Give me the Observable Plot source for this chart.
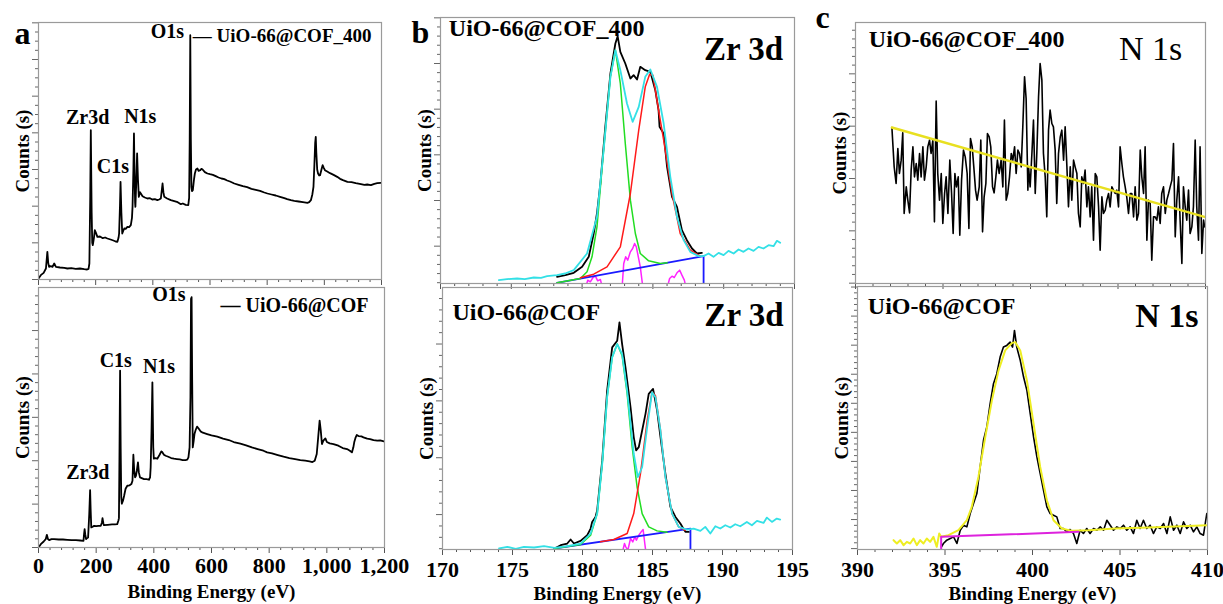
<!DOCTYPE html>
<html><head><meta charset="utf-8">
<script src="https://cdn.jsdelivr.net/npm/d3@7"></script>
<script src="https://cdn.jsdelivr.net/npm/@observablehq/plot@0.6"></script>
<style>
body{margin:0;background:#fff;}
#wrap{position:relative;width:1223px;height:604px;overflow:hidden;background:#fff;}
#wrap svg{position:absolute;}
</style></head><body><div id="wrap"></div>
<script>
// ---------- DATA (binding energy eV, counts in arbitrary units) ----------
const surveyCOF400 = [[0,3],[8,13],[18,20],[26,33],[31,83],[34,50],[37,38],[43,40],[49,38],[55,48],[61,38],[75,36],[90,35],[101,33],[115,34],[130,32],[145,33],[160,31],[170,30],[175,32],[178,48],[181,250],[183,448],[186,200],[188,110],[190,103],[194,125],[197,148],[201,140],[206,128],[215,129],[225,124],[233,126],[241,123],[252,120],[262,117],[270,114],[276,113],[280,125],[282,138],[285,220],[287,293],[290,200],[293,138],[296,145],[300,153],[305,152],[311,158],[317,157],[323,163],[327,185],[329,218],[332,330],[334,438],[336,320],[338,230],[339,218],[342,290],[345,378],[348,300],[351,248],[355,262],[358,258],[364,250],[372,246],[381,243],[390,244],[398,240],[407,241],[416,238],[422,240],[428,243],[431,265],[434,288],[437,262],[440,248],[450,243],[463,238],[475,235],[487,232],[498,226],[505,228],[515,224],[524,223],[527,245],[529,420],[531,733],[533,420],[535,278],[537,265],[540,268],[544,300],[547,318],[551,330],[556,333],[560,326],[566,328],[570,332],[574,330],[582,322],[591,318],[600,316],[610,314],[620,310],[630,306],[640,303],[650,301],[660,297],[670,294],[685,288],[700,284],[715,280],[730,277],[745,272],[760,269],[775,266],[790,261],[801,258],[815,255],[830,252],[845,248],[860,244],[870,241],[883,238],[895,236],[910,234],[925,232],[941,230],[947,232],[953,238],[958,255],[962,278],[965,340],[968,410],[970,428],[972,380],[975,330],[978,318],[982,312],[985,313],[990,330],[994,343],[998,335],[1002,328],[1010,324],[1020,319],[1034,313],[1045,308],[1055,302],[1065,298],[1081,293],[1095,292],[1110,289],[1128,286],[1140,284],[1150,285],[1163,283],[1175,287],[1185,289],[1198,290]];

const surveyCOF = [[0,0],[8,10],[18,18],[25,25],[29,38],[33,25],[37,22],[45,25],[54,25],[70,24],[85,24],[100,23],[115,22],[130,22],[145,21],[156,20],[158,40],[160,55],[162,40],[165,25],[168,28],[172,30],[176,100],[179,172],[181,110],[183,60],[188,62],[193,65],[200,64],[208,65],[216,65],[220,75],[222,88],[225,72],[227,67],[240,68],[255,69],[265,69],[273,70],[277,80],[279,88],[281,300],[283,530],[285,300],[287,150],[289,131],[293,140],[297,155],[302,176],[308,185],[315,186],[322,190],[326,200],[329,278],[332,230],[335,210],[338,215],[341,230],[345,255],[348,225],[352,210],[358,208],[366,205],[375,205],[383,203],[387,210],[389,240],[392,350],[395,495],[398,300],[400,266],[405,268],[412,266],[420,278],[426,288],[429,286],[435,278],[441,275],[450,272],[460,268],[470,266],[480,265],[490,264],[500,262],[510,262],[516,263],[520,270],[524,300],[527,450],[529,745],[531,750],[533,500],[535,300],[538,318],[541,340],[545,352],[550,362],[554,358],[562,348],[570,344],[585,340],[600,336],[620,332],[640,326],[660,322],[677,316],[700,311],[720,306],[740,300],[760,295],[780,290],[793,285],[810,282],[830,277],[850,272],[870,268],[890,265],[908,262],[925,260],[940,258],[950,256],[958,260],[965,280],[970,330],[975,380],[979,350],[983,310],[988,320],[995,327],[1000,316],[1010,312],[1023,310],[1040,305],[1055,298],[1070,295],[1080,290],[1087,285],[1092,300],[1095,315],[1100,330],[1104,337],[1110,334],[1120,333],[1127,330],[1140,326],[1150,325],[1162,322],[1175,320],[1185,321],[1198,318]];

// Zr 3d, UiO-66@COF_400
const zr400Raw = [[178.23,20],[178.82,25],[179.41,32],[180.00,50],[180.47,80],[180.82,150],[181.05,210],[181.29,300],[181.64,470],[182.00,630],[182.35,720],[182.51,742],[182.70,695],[183.05,660],[183.41,615],[183.64,625],[183.88,612],[184.11,650],[184.46,640],[184.82,635],[185.17,580],[185.40,520],[185.47,470],[185.76,450],[186.00,350],[186.35,260],[186.70,230],[187.05,160],[187.40,130],[187.76,105],[188.11,90],[188.46,92]];
const zr400Env = [[174.12,10],[174.70,13],[175.41,15],[175.95,13],[176.59,18],[177.10,17],[177.53,22],[178.23,25],[178.80,30],[179.41,40],[180.35,90],[181.05,200],[181.52,400],[182.00,620],[182.35,700],[182.70,640],[183.17,540],[183.57,485],[184.00,530],[184.46,620],[184.82,642],[185.29,590],[185.76,480],[186.23,320],[186.70,200],[187.17,130],[187.64,95],[188.23,82],[188.58,82],[188.93,90],[189.28,80],[189.64,92],[189.99,85],[190.34,98],[190.70,90],[191.05,102],[191.40,95],[191.75,105],[192.11,98],[192.46,110],[192.81,105],[193.17,115],[193.52,112],[193.76,128],[193.99,122]];
const zr400Pk1 = [[178.23,2],[179.88,15],[180.35,35],[180.70,80],[181.05,170],[181.52,400],[182.00,620],[182.35,700],[182.70,600],[183.05,420],[183.41,250],[183.76,150],[184.11,90],[184.70,68],[185.52,60],[186.00,62]];
const zr400Pk2 = [[179.88,17],[180.82,28],[181.76,50],[182.70,110],[183.41,270],[184.00,460],[184.46,590],[184.77,628],[185.00,625],[185.40,520],[185.76,430],[186.35,270],[186.93,150],[187.64,100],[188.34,82]];
const zr400Base = [[178.23,-30],[178.23,2],[188.58,82],[188.58,-30]];
const zr400Resid = [[179.90,-15],[180.23,-15],[180.40,10],[180.58,5],[180.77,18],[180.94,22],[181.10,8],[181.29,12],[181.45,-15],[182.82,-15],[182.94,60],[183.08,80],[183.22,70],[183.41,95],[183.57,105],[183.71,120],[183.83,110],[183.97,80],[184.11,50],[184.30,-15],[186.00,-15],[186.18,15],[186.35,22],[186.51,18],[186.70,32],[186.89,40],[187.05,25],[187.22,10],[187.36,-15]];

// Zr 3d, UiO-66@COF
const zrRaw = [[178.00,3],[178.44,13],[178.91,18],[179.15,30],[179.39,18],[179.86,26],[180.34,43],[180.58,63],[180.69,83],[180.93,98],[181.05,118],[181.41,268],[181.76,478],[182.12,608],[182.48,628],[182.64,683],[182.83,618],[183.07,548],[183.43,428],[183.66,338],[183.83,298],[184.02,308],[184.26,358],[184.50,408],[184.73,468],[185.04,483],[185.33,418],[185.57,338],[185.92,228],[186.28,128],[186.64,98],[186.99,78],[187.35,53],[187.59,53]];
const zrEnv = [[174.04,3],[174.63,8],[175.23,2],[175.82,8],[176.54,6],[177.25,10],[178.00,5],[178.91,10],[179.86,18],[180.58,48],[181.05,108],[181.41,258],[181.76,458],[182.12,578],[182.48,618],[182.83,588],[183.19,478],[183.66,288],[183.95,218],[184.26,248],[184.62,368],[184.97,473],[185.21,458],[185.57,358],[185.92,218],[186.40,108],[186.87,68],[187.47,60],[187.94,63],[188.42,56],[188.77,68],[189.13,48],[189.49,70],[189.84,63],[190.20,73],[190.56,66],[190.91,76],[191.27,70],[191.74,83],[192.10,73],[192.46,86],[192.93,80],[193.17,96],[193.53,83],[193.88,93],[194.12,90]];
const zrPk1 = [[178.00,3],[179.86,15],[180.58,43],[181.05,108],[181.41,258],[181.76,458],[182.12,578],[182.48,618],[182.83,583],[183.19,468],[183.55,308],[183.90,188],[184.26,108],[184.73,68],[185.33,56],[186.04,52]];
const zrPk2 = [[181.29,23],[182.24,30],[183.19,48],[183.66,108],[184.14,228],[184.62,388],[184.97,473],[185.21,463],[185.57,358],[185.92,218],[186.40,108],[186.87,68],[187.35,58]];
const zrBase = [[178.00,-30],[178.00,3],[187.71,63],[187.71,-30]];
const zrResid = [[182.83,-12],[183.00,18],[183.09,8],[183.24,-2],[183.43,33],[183.59,23],[183.74,38],[183.85,28],[184.02,43],[184.19,53],[184.33,60],[184.45,18],[184.54,-12]];

// N 1s, UiO-66@COF_400
const n400Raw = [[392.08,468],[392.21,350],[392.32,300],[392.42,405],[392.51,330],[392.61,370],[392.70,452],[392.78,210],[392.90,290],[392.99,250],[393.09,212],[393.18,340],[393.28,410],[393.37,320],[393.47,360],[393.56,310],[393.66,390],[393.75,320],[393.85,410],[393.94,310],[394.04,350],[394.13,410],[394.23,430],[394.32,390],[394.42,430],[394.51,185],[394.61,547],[394.70,330],[394.80,250],[394.90,330],[394.99,180],[395.09,270],[395.18,320],[395.28,210],[395.39,370],[395.49,270],[395.58,150],[395.68,330],[395.77,290],[395.87,320],[395.96,145],[396.06,310],[396.17,400],[396.27,380],[396.38,330],[396.48,165],[396.57,435],[396.67,410],[396.76,350],[396.86,280],[396.95,250],[397.07,290],[397.16,430],[397.26,155],[397.35,260],[397.45,300],[397.54,450],[397.64,440],[397.73,410],[397.83,290],[397.92,272],[398.02,320],[398.11,370],[398.21,330],[398.32,370],[398.42,290],[398.51,490],[398.61,250],[398.70,270],[398.80,320],[398.90,390],[398.99,370],[399.09,410],[399.18,330],[399.28,400],[399.37,390],[399.47,350],[399.56,470],[399.66,620],[399.75,555],[399.85,280],[399.89,350],[399.98,290],[400.08,390],[400.17,490],[400.27,270],[400.36,390],[400.46,560],[400.55,660],[400.65,610],[400.74,390],[400.84,320],[400.93,200],[401.03,460],[401.12,520],[401.22,480],[401.31,470],[401.41,400],[401.50,240],[401.60,390],[401.70,440],[401.79,460],[401.89,370],[401.98,470],[402.08,350],[402.17,230],[402.27,350],[402.36,250],[402.46,370],[402.55,350],[402.65,330],[402.74,210],[402.84,170],[402.93,320],[403.03,300],[403.12,340],[403.22,230],[403.31,290],[403.41,200],[403.50,290],[403.60,130],[403.70,330],[403.79,320],[403.89,230],[403.98,100],[404.08,260],[404.17,210],[404.27,220],[404.36,250],[404.46,270],[404.55,230],[404.65,290],[404.74,280],[404.84,270],[404.93,280],[405.03,230],[405.12,410],[405.22,360],[405.31,320],[405.41,290],[405.50,260],[405.60,210],[405.70,270],[405.79,270],[405.89,200],[405.98,290],[406.08,190],[406.17,210],[406.27,400],[406.36,320],[406.46,270],[406.55,410],[406.65,130],[406.74,250],[406.84,240],[406.93,70],[407.03,200],[407.12,200],[407.22,190],[407.31,230],[407.41,180],[407.50,270],[407.60,290],[407.70,210],[407.79,250],[407.89,270],[407.98,290],[408.08,310],[408.17,420],[408.27,140],[408.36,250],[408.46,320],[408.55,190],[408.65,60],[408.74,290],[408.84,230],[408.93,190],[409.03,280],[409.12,150],[409.22,170],[409.31,230],[409.41,430],[409.50,230],[409.60,130],[409.69,410],[409.79,90],[409.89,190],[409.95,170]];
const n400Bg = [[392.08,468],[409.94,200]];

// N 1s, UiO-66@COF
const nRaw = [[394.80,8],[394.91,18],[395.10,28],[395.30,33],[395.49,38],[395.68,18],[395.87,58],[396.06,73],[396.25,68],[396.44,108],[396.63,138],[396.82,168],[397.01,248],[397.20,328],[397.39,368],[397.58,438],[397.77,498],[397.96,528],[398.15,578],[398.34,608],[398.53,613],[398.72,623],[398.86,608],[398.97,658],[399.10,608],[399.30,568],[399.49,518],[399.68,478],[399.87,408],[400.06,338],[400.25,278],[400.44,228],[400.63,178],[400.82,128],[401.01,108],[401.20,103],[401.39,98],[401.58,63],[401.77,63],[401.96,53],[402.15,60],[402.34,48],[402.53,18],[402.72,58],[402.91,48],[403.10,63],[403.29,48],[403.49,63],[403.68,58],[403.87,68],[404.06,58],[404.25,88],[404.44,73],[404.63,58],[404.82,68],[405.01,63],[405.20,73],[405.39,58],[405.58,68],[405.77,48],[405.96,88],[406.15,63],[406.34,88],[406.53,63],[406.72,73],[406.91,48],[407.10,68],[407.30,63],[407.49,78],[407.68,48],[407.87,98],[408.06,58],[408.25,73],[408.44,48],[408.63,83],[408.82,63],[409.01,73],[409.20,53],[409.39,68],[409.58,48],[409.77,43],[409.87,78],[409.96,108]];
const nFit = [[392.06,28],[392.25,18],[392.44,28],[392.63,13],[392.82,23],[393.01,18],[393.20,33],[393.39,13],[393.58,28],[393.77,18],[393.96,33],[394.15,23],[394.34,38],[394.53,8],[394.67,48],[394.78,38],[395.20,43],[395.77,58],[396.25,88],[396.53,128],[396.91,218],[397.30,338],[397.68,448],[398.06,538],[398.44,598],[398.82,620],[399.01,623],[399.30,598],[399.68,508],[400.06,378],[400.44,248],[400.82,148],[401.20,88],[401.68,63],[402.25,56],[403.20,58],[404.72,63],[406.63,66],[408.53,70],[410.00,73]];
const nBase = [[394.78,-20],[394.78,38],[402.63,53]];

// annotation labels: [text, eV, counts]
const surveyLabels400 = [["O1s",451,724],["Zr3d",172,466],["C1s",260,319],["N1s",356,469]];
const surveyLabels = [["O1s",452,738],["C1s",268,542],["N1s",418,522],["Zr3d",171,205]];
const legend400 = ["— UiO-66@COF_400", 540, 712];
const legendCOF = ["— UiO-66@COF", 631, 705];
const sample400 = "UiO-66@COF_400", sampleCOF = "UiO-66@COF";

// ---------- DRAWING ----------
const wrap = document.getElementById("wrap");
const FONT = '"Liberation Serif", "Times New Roman", Times, serif';
const fmtComma = d3.format(",");

function lineMark(data, stroke, w = 1.5) {
  return Plot.line(data, {x: d => d[0], y: d => d[1], stroke, strokeWidth: w, clip: true, strokeLinejoin: "round"});
}
function labelMark(rows, opts) {
  return Plot.text(rows, {x: d => d[1], y: d => d[2], text: d => d[0], lineAnchor: "bottom", fontWeight: "bold", ...opts});
}

function panel(c) {
  const mL = 60, mR = 40, mT = 40, mB = c.bottom ? 62 : 14;
  const [x0, x1] = c.xDomain;
  const xMajor = d3.range(x0, x1 + 1e-9, c.xMajor);
  const xMinor = d3.range(x0, x1 + 1e-9, c.xMinor).filter(v => !xMajor.some(m => Math.abs(m - v) < 1e-6));
  const ys = c.yStep / c.yMinorN;
  let y0 = c.yStart % ys;
  const yAll = d3.range(y0, c.yDomain[1] + 1e-9, ys);
  const isMaj = v => Math.abs(((v - c.yStart) / c.yStep) - Math.round((v - c.yStart) / c.yStep)) < 1e-6;
  const yMajor = yAll.filter(isMaj), yMinor = yAll.filter(v => !isMaj(v));
  const marks = [
    Plot.axisX({ticks: xMinor, tickSize: 3, tickFormat: () => "", label: null, stroke: "#555"}),
    Plot.axisX({ticks: xMajor, tickSize: 6, tickPadding: c.tickPad || 4, tickFormat: c.bottom ? (c.xfmt || (d => d)) : () => "", label: null, stroke: "#555"}),
    Plot.axisY({ticks: yMinor, tickSize: 3, tickFormat: () => "", label: null, stroke: "#666"}),
    Plot.axisY({ticks: yMajor, tickSize: 6, tickFormat: () => "", label: null, stroke: "#666"}),
    ...c.layers,
    Plot.frame({stroke: "#9a9a9a", strokeWidth: 1.2}),
    ...c.texts,
    Plot.text(["Counts (s)"], {frameAnchor: "left", textAnchor: "middle", lineAnchor: "middle", rotate: -90, dx: -16, fontSize: 19, fontWeight: "bold"})
  ];
  if (c.bottom) marks.push(Plot.text(["Binding Energy (eV)"], {frameAnchor: "bottom", textAnchor: "middle", dy: 50, lineAnchor: "bottom", fontSize: 19, fontWeight: "bold"}));
  if (c.letter) marks.push(Plot.text([c.letter[0]], {frameAnchor: "top-left", textAnchor: "middle", dx: c.letter[1], dy: c.letter[2], lineAnchor: "bottom", fontSize: 32, fontWeight: "bold"}));
  const svg = Plot.plot({
    width: c.W + mL + mR, height: c.H + mT + mB,
    marginLeft: mL, marginRight: mR, marginTop: mT, marginBottom: mB,
    x: {domain: c.xDomain}, y: {domain: c.yDomain},
    style: {fontFamily: FONT, fontSize: "22px", fontWeight: "bold", color: "black", background: "transparent", overflow: "visible"},
    marks
  });
  svg.style.left = (c.L - mL) + "px";
  svg.style.top = (c.T - mT) + "px";
  svg.style.maxWidth = "none";
  wrap.appendChild(svg);
}

// panel a (survey)
panel({L: 38, T: 22, W: 343, H: 257, xDomain: [0, 1200], yDomain: [0, 771], xMajor: 200, xMinor: 40,
  yStart: 110, yStep: 110, yMinorN: 4, bottom: false, letter: ["a", -16, 21],
  layers: [lineMark(surveyCOF400, "black", 1.8)],
  texts: [labelMark(surveyLabels400, {fontSize: 20}),
          Plot.text([legend400], {x: d => d[1], y: d => d[2], text: d => d[0], textAnchor: "start", lineAnchor: "bottom", fontSize: 19, fontWeight: "bold"})]
});
panel({L: 38, T: 287, W: 346, H: 260, xDomain: [0, 1200], yDomain: [0, 779], xMajor: 200, xMinor: 40,
  yStart: 130, yStep: 130, yMinorN: 5, bottom: true, xfmt: fmtComma, tickPad: 4,
  layers: [lineMark(surveyCOF, "black", 1.8)],
  texts: [labelMark(surveyLabels, {fontSize: 20}),
          Plot.text([legendCOF], {x: d => d[1], y: d => d[2], text: d => d[0], textAnchor: "start", lineAnchor: "bottom", fontSize: 20, fontWeight: "bold"})]
});

// panel b (Zr 3d)
panel({L: 440, T: 17, W: 354, H: 266, xDomain: [170, 195], yDomain: [0, 798], xMajor: 5, xMinor: 1,
  yStart: 112, yStep: 137, yMinorN: 5, bottom: false, letter: ["b", -20, 25],
  layers: [lineMark(zr400Resid, "#ff22ff", 1.5), lineMark(zr400Base, "#1a1aff", 1.8), lineMark(zr400Raw, "black", 1.8),
           lineMark(zr400Pk1, "#22dd22", 1.5), lineMark(zr400Pk2, "#ff1a1a", 1.5), lineMark(zr400Env, "#33e0e6", 1.8)],
  texts: [Plot.text([[sample400, 170.59, 742]], {x: d => d[1], y: d => d[2], text: d => d[0], textAnchor: "start", lineAnchor: "bottom", fontSize: 24, fontWeight: "bold"}),
          Plot.text([["Zr 3d", 194.2, 672]], {x: d => d[1], y: d => d[2], text: d => d[0], textAnchor: "end", lineAnchor: "bottom", fontSize: 33, fontWeight: "bold"})]
});
panel({L: 442, T: 287, W: 350, H: 262, xDomain: [170, 195], yDomain: [0, 788], xMajor: 5, xMinor: 1,
  yStart: 105, yStep: 171, yMinorN: 5, bottom: true, tickPad: 6,
  layers: [lineMark(zrResid, "#ff22ff", 1.5), lineMark(zrBase, "#1a1aff", 1.8), lineMark(zrRaw, "black", 1.8),
           lineMark(zrPk1, "#22dd22", 1.5), lineMark(zrPk2, "#ff1a1a", 1.5), lineMark(zrEnv, "#33e0e6", 1.8)],
  texts: [Plot.text([[sampleCOF, 170.71, 690]], {x: d => d[1], y: d => d[2], text: d => d[0], textAnchor: "start", lineAnchor: "bottom", fontSize: 24, fontWeight: "bold"}),
          Plot.text([["Zr 3d", 194.36, 673]], {x: d => d[1], y: d => d[2], text: d => d[0], textAnchor: "end", lineAnchor: "bottom", fontSize: 33, fontWeight: "bold"})]
});

// panel c (N 1s)
panel({L: 855, T: 22, W: 350, H: 261, xDomain: [390, 410], yDomain: [0, 783], xMajor: 5, xMinor: 1,
  yStart: 158, yStep: 157, yMinorN: 6, bottom: false, letter: ["c", -33, 5],
  layers: [lineMark(n400Raw, "black", 1.6), lineMark(n400Bg, "#e8e020", 2.5)],
  texts: [Plot.text([[sample400, 390.76, 710]], {x: d => d[1], y: d => d[2], text: d => d[0], textAnchor: "start", lineAnchor: "bottom", fontSize: 24, fontWeight: "bold"}),
          Plot.text([["N 1s", 408.67, 672]], {x: d => d[1], y: d => d[2], text: d => d[0], textAnchor: "end", lineAnchor: "bottom", fontSize: 34, fontWeight: "normal"})]
});
panel({L: 857, T: 286, W: 350, H: 263, xDomain: [390, 410], yDomain: [0, 790], xMajor: 5, xMinor: 1,
  yStart: 90, yStep: 87.3, yMinorN: 5, bottom: true, tickPad: 6,
  layers: [lineMark(nRaw, "black", 1.6), lineMark(nFit, "#eeee22", 2), lineMark(nBase, "#dd22dd", 2)],
  texts: [Plot.text([[sampleCOF, 390.59, 708]], {x: d => d[1], y: d => d[2], text: d => d[0], textAnchor: "start", lineAnchor: "bottom", fontSize: 24, fontWeight: "bold"}),
          Plot.text([["N 1s", 409.49, 668]], {x: d => d[1], y: d => d[2], text: d => d[0], textAnchor: "end", lineAnchor: "bottom", fontSize: 34, fontWeight: "bold"})]
});
</script></body></html>
